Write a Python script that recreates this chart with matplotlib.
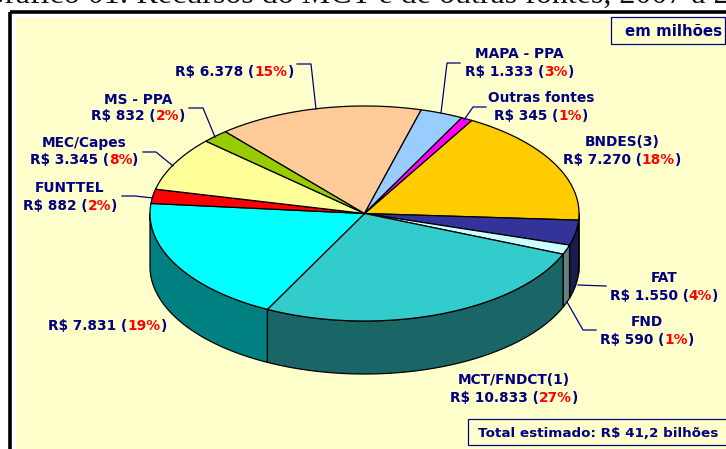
import numpy as np
import matplotlib
matplotlib.use("Agg")
import matplotlib.pyplot as plt
from matplotlib.patches import Rectangle

# Data, clockwise from the BNDES slice
names = ["BNDES(3)", "FAT", "FND", "MCT/FNDCT(1)", "", "FUNTTEL", "MEC/Capes", "MS - PPA", "", "MAPA - PPA", "Outras fontes"]
values = [7270, 1550, 590, 10833, 7831, 882, 3345, 832, 6378, 1333, 345]
value_labels = ["7.270", "1.550", "590", "10.833", "7.831", "882", "3.345", "832", "6.378", "1.333", "345"]
percents = [18, 4, 1, 27, 19, 2, 8, 2, 15, 3, 1]
colors = ["#FFCC00", "#333399", "#CCFFFF", "#33CCCC", "#00FFFF", "#FF0000", "#FFFF99", "#99CC00", "#FFCC99", "#99CCFF", "#FF00FF"]
side_colors = ["#806600", "#1A1A4D", "#668080", "#1A6666", "#008080", "#800000", "#80804D", "#4D6600", "#80664D", "#4D6680", "#800080"]
# label centres: x, baseline y of name line, baseline y of value line
label_pos = [(622, 146.5, 164), (664, 281.5, 299.5), (647, 325.5, 343.5), (514, 384.5, 401.5), (107.5, None, 330.5),
             (70, 191.5, 209.5), (84, 147.5, 164.5), (138, 103.5, 120.5), (234.5, None, 76.5), (519.5, 58.5, 75.5), (541, 102.5, 119.5)]
leaders = [None, [(578, 285), (606, 286)], [(567, 302), (583, 330), (596, 330)], None, None,
           [(122, 196), (135, 196), (153, 198)], [(143, 152), (156, 152), (173, 166)],
           [(189, 108), (203, 108), (215, 137)], [(297, 64), (311, 64), (316, 109)],
           [(460, 63), (447, 63), (441, 113)], [(486, 107), (473, 107), (464, 120)]]
title = "Gráfico 01: Recursos do MCT e de outras fontes, 2007 a 2010"
unit_text = "em milhões"
total_text = "Total estimado: R$ 41,2 bilhões"

NAVY = "#000080"
RED = "#FF0000"
FS = 9.9
CX, CY, A, B, DEPTH = 364.5, 213.5, 214.5, 107.5, 53
START = 60.0

fig = plt.figure(figsize=(7.26, 4.49), dpi=100, facecolor="white")
ax = fig.add_axes([0, 0, 1, 1])
ax.set_xlim(0, 726)
ax.set_ylim(449, 0)
ax.axis("off")

ax.add_patch(Rectangle((10, 11.5), 780, 500, fc="none", ec="black", lw=2.6, zorder=1))
ax.add_patch(Rectangle((16, 18), 720, 440, fc="#FFFFCC", ec="none", zorder=1))
ax.text(-18, 2.5, title, family="Liberation Serif", fontsize=23, color="#111111", va="baseline", ha="left", zorder=1)

def rim(t):
    r = np.radians(t)
    return CX + A * np.cos(r), CY - B * np.sin(r)

spans = np.array(values) / sum(values) * 360
edges = START - np.concatenate([[0], np.cumsum(spans)])

# sides of the front half
for t1, t2, c in zip(edges[:-1], edges[1:], side_colors):
    lo, hi = max(t2, -180), min(t1, 0)
    if lo >= hi:
        continue
    t = np.linspace(hi, lo, 80)
    x, y = rim(t)
    ax.fill(np.r_[x, x[::-1]], np.r_[y, y[::-1] + DEPTH], fc=c, ec="black", lw=0.9, zorder=3, joinstyle="round")

# top faces
for t1, t2, c in zip(edges[:-1], edges[1:], colors):
    t = np.linspace(t1, t2, 120)
    x, y = rim(t)
    ax.fill(np.r_[CX, x], np.r_[CY, y], fc=c, ec="black", lw=0.9, zorder=4, joinstyle="round")

# leaders
for pts in leaders:
    if pts:
        p = np.array(pts)
        ax.plot(p[:, 0], p[:, 1], color=NAVY, lw=0.9, zorder=5)

fig.canvas.draw()
rend = fig.canvas.get_renderer()

def width(s, fs=FS):
    tt = ax.text(0, 0, s + "x", fontsize=fs, fontweight="bold", family="DejaVu Sans")
    w = tt.get_window_extent(rend).width
    tt.set_text("x")
    w -= tt.get_window_extent(rend).width
    tt.remove()
    return w

def txt(x, y, s, c=NAVY, ha="left", fs=FS):
    ax.text(x, y, s, color=c, fontsize=fs, fontweight="bold", family="DejaVu Sans", va="baseline", ha=ha, zorder=6)

for name, val, pct, (x, y1, y2) in zip(names, value_labels, percents, label_pos):
    if name:
        txt(x, y1, name, ha="center")
    a, b, c = f"R$ {val} (", f"{pct}%", ")"
    total = width(a + b + c)
    left = x - total / 2
    txt(left, y2, a)
    txt(left + width(a), y2, b, RED)
    txt(left + width(a + b), y2, c)

ax.add_patch(Rectangle((611, 17), 114, 27, fc="#FFFFCC", ec=NAVY, lw=0.9, zorder=5))
txt(674, 36, unit_text, ha="center", fs=10.8)
ax.add_patch(Rectangle((468, 419), 262, 26, fc="#FFFFCC", ec=NAVY, lw=0.9, zorder=5))
txt(598, 437, total_text, ha="center", fs=9.7)

fig.savefig("out.png", dpi=100, facecolor="white")
